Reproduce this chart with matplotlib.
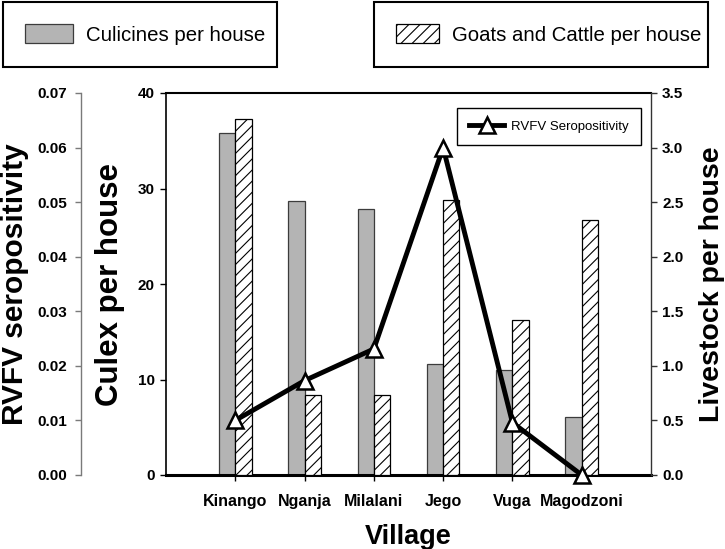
import numpy as np
import matplotlib
matplotlib.use('Agg')
import matplotlib.pyplot as plt
from matplotlib.ticker import FormatStrFormatter, MultipleLocator

# data
villages = ['Kinango', 'Nganja', 'Milalani', 'Jego', 'Vuga', 'Magodzoni']
culicines = [35.8, 28.7, 27.9, 11.6, 11.0, 6.1]       # culex per house (inner left axis)
livestock = [3.26, 0.73, 0.73, 2.52, 1.42, 2.34]     # goats and cattle per house (right axis)
seropos = [0.010, 0.0173, 0.0231, 0.060, 0.0096, 0.0]  # RVFV seropositivity (outer left axis)

plt.rcParams['font.family'] = ['Liberation Sans', 'DejaVu Sans']
plt.rcParams['font.weight'] = 'bold'
plt.rcParams['axes.labelweight'] = 'bold'
plt.rcParams['hatch.linewidth'] = 0.8

fig = plt.figure(figsize=(7.25, 5.49), dpi=100)
ax = fig.add_axes([166 / 725, 74 / 549, 485 / 725, 382 / 549])

x = np.arange(len(villages))
w = 0.235
b1 = ax.bar(x - w / 2, culicines, w, color='#b4b4b4', edgecolor='#3c3c3c', linewidth=0.9)
ax.set_xlim(-1, 6)
ax.set_ylim(0, 40)
ax.yaxis.set_major_locator(MultipleLocator(10))
ax.set_xticks(x)
ax.set_xticklabels(villages)

ax2 = ax.twinx()
b2 = ax2.bar(x + w / 2, livestock, w, color='white', edgecolor='black',
             hatch='///', linewidth=0.9)
ax2.set_ylim(0, 3.5)
ax2.yaxis.set_major_locator(MultipleLocator(0.5))
ax2.yaxis.set_major_formatter(FormatStrFormatter('%.1f'))

ax3 = ax.twinx()
ax3.plot(x, seropos, color='black', lw=3.5, marker='^', ms=12, mfc='white',
         mec='black', mew=1.8, label='RVFV Seropositivity', clip_on=False, zorder=5)
ax3.set_ylim(0, 0.07)
ax3.yaxis.set_major_locator(MultipleLocator(0.01))
ax3.yaxis.set_major_formatter(FormatStrFormatter('%.2f'))
ax3.yaxis.set_ticks_position('left')
ax3.yaxis.set_label_position('left')

# spines
for s in ['top', 'bottom', 'left', 'right']:
    ax2.spines[s].set_visible(False)
    ax3.spines[s].set_visible(False)
ax.spines['right'].set_visible(False)
ax.spines['top'].set_linewidth(1.5)
ax.spines['left'].set_linewidth(1.2)
ax.spines['bottom'].set_linewidth(2.2)
ax2.spines['right'].set_visible(True)
ax2.spines['right'].set_color('#333333')
ax2.spines['right'].set_linewidth(1.0)
ax3.spines['left'].set_visible(True)
ax3.spines['left'].set_position(('outward', 61))
ax3.spines['left'].set_color('#7a7a7a')
ax3.spines['left'].set_linewidth(1.0)

ax.tick_params(axis='y', direction='out', length=4, width=1, pad=4, labelsize=11)
ax.tick_params(axis='x', direction='out', length=4, width=1, pad=9.5, labelsize=11.5)
ax2.tick_params(axis='y', direction='out', length=4, width=1, pad=4, labelsize=11, color='#333333')
ax3.tick_params(axis='y', direction='out', length=4, width=1, pad=6, labelsize=11, color='#7a7a7a')

ax3.set_ylabel('RVFV seropositivity', fontsize=21.5, fontweight='bold', labelpad=6)
ax.set_ylabel('Culex per house', fontsize=22.5, fontweight='bold', labelpad=9)
ax2.set_ylabel('Livestock per house', fontsize=20.5, fontweight='bold', labelpad=11)
ax.set_xlabel('Village', fontsize=19.5, fontweight='bold', labelpad=11)

# legends
leg = ax3.legend(loc='upper right', bbox_to_anchor=(0.979, 0.961), borderaxespad=0,
                 prop={'size': 9.5, 'weight': 'normal'}, handlelength=2.65,
                 handletextpad=0.5, borderpad=0.95, fancybox=False,
                 edgecolor='black', framealpha=1)
leg.get_frame().set_linewidth(1.0)

l1 = fig.legend([b1], ['Culicines per house'], loc='upper left',
                bbox_to_anchor=(3 / 725, 1 - 2 / 549, 274 / 725, 0), mode='expand',
                borderaxespad=0, prop={'size': 14.7, 'weight': 'normal'},
                handlelength=2.35, handleheight=1.0, handletextpad=0.6,
                borderpad=1.1, fancybox=False, edgecolor='black', framealpha=1)
l1.get_frame().set_linewidth(1.5)
l2 = fig.legend([b2], ['Goats and Cattle per house'], loc='upper left',
                bbox_to_anchor=(374 / 725, 1 - 2 / 549, 334 / 725, 0), mode='expand',
                borderaxespad=0, prop={'size': 14.7, 'weight': 'normal'},
                handlelength=2.1, handleheight=1.0, handletextpad=0.6,
                borderpad=1.1, fancybox=False, edgecolor='black', framealpha=1)
l2.get_frame().set_linewidth(1.5)

fig.savefig('out.png', dpi=100)
